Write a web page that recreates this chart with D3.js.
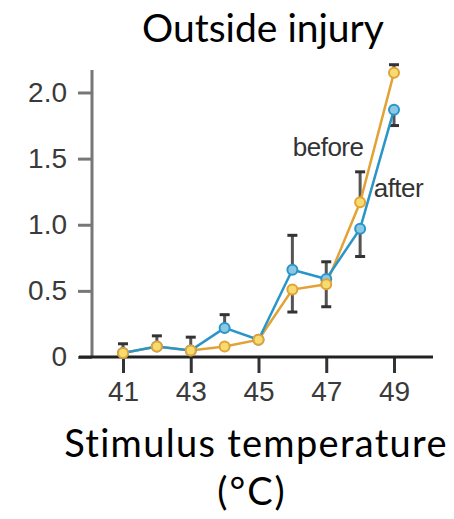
<!DOCTYPE html>
<html><head><meta charset="utf-8">
<script src="https://cdn.jsdelivr.net/npm/d3@7"></script>
<style>body{margin:0;background:#fff}svg{display:block}</style>
</head><body>
<svg id="c" width="454" height="519"></svg>
<script>
const temps = [41, 42, 43, 44, 45, 46, 47, 48, 49];
const before = [0.03, 0.08, 0.05, 0.08, 0.13, 0.51, 0.55, 1.17, 2.15];
const after  = [0.03, 0.08, 0.05, 0.22, 0.13, 0.66, 0.59, 0.97, 1.87];
const errHi  = [0.10, 0.16, 0.15, 0.32, null, 0.92, 0.72, 1.40, 2.21];
const errLo  = [null, null, null, null, null, 0.34, 0.38, 0.76, 1.75];
const xTicks = [41, 43, 45, 47, 49];
const yTicks = [0, 0.5, 1.0, 1.5, 2.0];
const yTickLabels = ["0", "0.5", "1.0", "1.5", "2.0"];
const seriesNames = ["before", "after"];
const title = "Outside injury";
const xTitle = ["Stimulus temperature", "(°C)"];

const svg = d3.select("#c");
const x = d3.scaleLinear().domain([41, 49]).range([123, 394]);
const y = d3.scaleLinear().domain([0, 2.17]).range([357, 70]);
const axisX0 = 92;

const tickFont = "'Liberation Sans', Arial, sans-serif";
const labelFont = "Lato, 'Open Sans', sans-serif";

// y axis
const ya = svg.append("g").attr("transform", `translate(${axisX0},0)`)
  .call(d3.axisLeft(y).tickValues(yTicks).tickFormat((d,i)=>yTickLabels[i]).tickSize(14).tickPadding(11));
ya.select(".domain").remove();
ya.selectAll(".tick line").attr("stroke", "#777").attr("stroke-width", 3);
ya.selectAll(".tick text").attr("font-family", tickFont).attr("font-size", 28).attr("fill", "#3a3a3a");
svg.append("line").attr("x1", axisX0).attr("x2", axisX0).attr("y1", y.range()[1]).attr("y2", y(0)+1)
  .attr("stroke", "#777").attr("stroke-width", 3);

// x axis
const xa = svg.append("g").attr("transform", `translate(0,${y(0)})`)
  .call(d3.axisBottom(x).tickValues(xTicks).tickFormat(d3.format("d")).tickSize(16).tickPadding(8));
xa.select(".domain").remove();
xa.selectAll(".tick line").attr("stroke", "#333").attr("stroke-width", 3);
xa.selectAll(".tick text").attr("font-family", tickFont).attr("font-size", 28).attr("fill", "#3a3a3a");
svg.append("line").attr("x1", x(41)-44).attr("x2", x(49)+39).attr("y1", y(0)).attr("y2", y(0))
  .attr("stroke", "#222").attr("stroke-width", 3);

// error bars
const eb = svg.append("g").attr("stroke", "#555").attr("stroke-width", 3);
temps.forEach((t, i) => {
  const hi = Math.max(before[i], after[i]), lo = Math.min(before[i], after[i]);
  [[errHi[i], hi], [errLo[i], lo]].forEach(([e, v]) => {
    if (e == null) return;
    eb.append("line").attr("x1", x(t)).attr("x2", x(t)).attr("y1", y(v)).attr("y2", y(e));
    eb.append("line").attr("x1", x(t)-5).attr("x2", x(t)+5).attr("y1", y(e)).attr("y2", y(e)).attr("stroke", "#333");
  });
});

const line = d3.line().x((d,i)=>x(temps[i])).y(d=>y(d));
const series = [
  {vals: before, stroke: "#e2a236", fill: "#f6dc70"},
  {vals: after,  stroke: "#2a95c8", fill: "#8cc8e4"}
];
series.forEach(s => {
  svg.append("path").attr("d", line(s.vals)).attr("fill", "none").attr("stroke", s.stroke).attr("stroke-width", 2.5);
});
[series[1], series[0]].forEach(s => {
  svg.append("g").selectAll("circle").data(s.vals).join("circle")
    .attr("cx", (d,i)=>x(temps[i])).attr("cy", d=>y(d)).attr("r", 5)
    .attr("fill", s.fill).attr("stroke", s.stroke).attr("stroke-width", 2);
});

// series labels
svg.append("text").attr("x", x(48.1)).attr("y", y(1.52)).attr("text-anchor", "end")
  .attr("font-family", tickFont).attr("font-size", 26).attr("fill", "#333").attr("letter-spacing", -0.5).text(seriesNames[0]);
svg.append("text").attr("x", x(48.4)).attr("y", y(1.21))
  .attr("font-family", tickFont).attr("font-size", 26).attr("fill", "#333").attr("letter-spacing", -0.5).text(seriesNames[1]);

// titles
svg.append("text").attr("x", 263).attr("y", 42).attr("text-anchor", "middle")
  .attr("font-family", labelFont).attr("font-size", 39).attr("fill", "#000").text(title);
svg.append("text").attr("x", 256).attr("y", 457).attr("text-anchor", "middle")
  .attr("font-family", labelFont).attr("font-size", 38).attr("letter-spacing", 1.3).attr("fill", "#000").text(xTitle[0]);
svg.append("text").attr("x", 252).attr("y", 505).attr("text-anchor", "middle")
  .attr("font-family", labelFont).attr("font-size", 38).attr("letter-spacing", 2).attr("fill", "#000").text(xTitle[1]);
</script>
</body></html>
